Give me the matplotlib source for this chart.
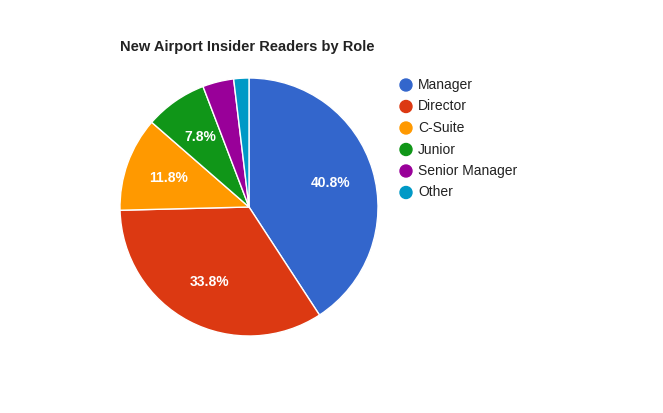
import matplotlib
matplotlib.use("Agg")
import matplotlib.pyplot as plt

plt.rcParams["font.family"] = ["Liberation Sans", "DejaVu Sans"]

labels = ["Manager", "Director", "C-Suite", "Junior", "Senior Manager", "Other"]
shares = [40.8, 33.8, 11.8, 7.8, 3.9, 1.9]
colors = ["#3366cc", "#dc3912", "#ff9900", "#109618", "#990099", "#0099c6"]

W, H = 663, 413
fig = plt.figure(figsize=(W / 100, H / 100), dpi=100)

# pie placed in pixel terms: centre (249, 207), radius 129
cx, cy, r = 249, 207, 129
ax = fig.add_axes([(cx - r) / W, (H - cy - r) / H, 2 * r / W, 2 * r / H])
wedges, _, autotexts = ax.pie(
    shares, colors=colors, startangle=90, counterclock=False,
    autopct=lambda p: f"{p:.1f}%" if p > 5 else "", pctdistance=0.66,
    wedgeprops=dict(edgecolor="white", linewidth=1),
    textprops=dict(color="white", fontsize=10, fontweight="bold"),
)
ax.set_xlim(-1, 1)
ax.set_ylim(-1, 1)
ax.set_aspect("equal")

fig.text(120 / W, 1 - 47 / H, "New Airport Insider Readers by Role",
         fontsize=10.5, fontweight="bold", color="#222222", va="center")

for i, (lab, col) in enumerate(zip(labels, colors)):
    y = 1 - (85 + i * 21.5) / H
    fig.patches.append(matplotlib.patches.Ellipse(
        (406 / W, y), 12 / W, 12 / H, transform=fig.transFigure,
        color=col, figure=fig))
    fig.text(418 / W, y, lab, fontsize=10, color="#222222", va="center")

fig.savefig("out.png", dpi=100)
